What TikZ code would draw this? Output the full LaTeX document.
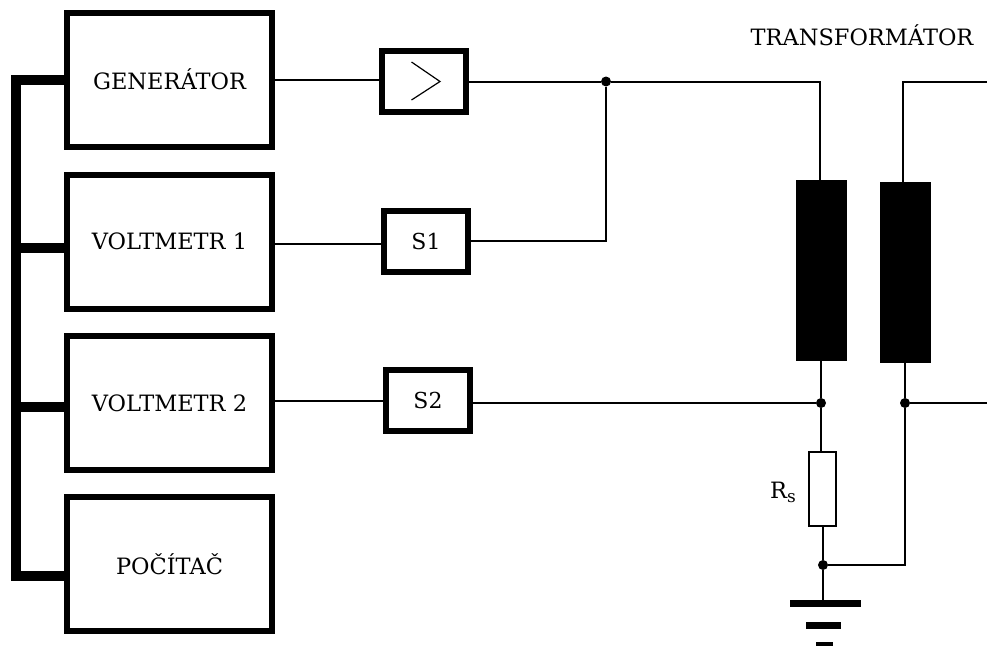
\documentclass[tikz,border=0pt]{standalone}
\usepackage{fontspec}
\setmainfont{DejaVu Serif}
\begin{document}
\begin{tikzpicture}[x=1pt,y=-1pt,
  lbl/.style={font=\fontsize{22.5}{26}\selectfont,inner sep=0pt},
  bigbox/.style={draw,line width=6pt,minimum width=205pt,minimum height=134pt,inner sep=0pt,outer sep=0pt,lbl},
  smallbox/.style={draw,line width=6pt,minimum width=84pt,minimum height=61pt,inner sep=0pt,outer sep=0pt,font=\fontsize{22}{26}\selectfont},
  core/.style={fill=black,minimum width=51pt,minimum height=181pt,inner sep=0pt,outer sep=0pt},
  wire/.style={line width=2pt,line cap=butt},
  bus/.style={line width=10pt},
  dotj/.style={circle,fill=black,minimum size=10pt,inner sep=0pt,outer sep=0pt},
  bar/.style={fill=black,inner sep=0pt,outer sep=0pt}]
\useasboundingbox (0,0) rectangle (987,645);
\fill[white] (0,0) rectangle (987,645);
% blocks
\node[bigbox] (gen) at (169.5,80) {\raisebox{1pt}{GENERÁTOR}};
\node[bigbox] (vm1) at (169.5,241.5) {VOLTMETR 1};
\node[bigbox] (vm2) at (169.5,403) {VOLTMETR 2};
\node[bigbox] (pc)  at (169.5,564) {POČÍTAČ};
\node[smallbox] (amp) at (424,81.5) {};
\node[smallbox] (s1) at (426,241.5) {S1};
\node[smallbox] (s2) at (428,400.5) {S2};
\draw[line width=1.2pt] (411.5,62) -- (440,81.5) -- (411.5,100);
% transformer
\node[core] (pri) at (821.5,270.5) {};
\node[core] (sec) at (905.5,272.5) {};
\node[draw,line width=1.6pt,fill=white,minimum width=27pt,minimum height=74pt,inner sep=0pt,outer sep=0pt] (rs) at (822.5,489) {};
\node[font=\fontsize{22.5}{26}\selectfont,inner sep=0pt,anchor=east] (rsl) at (796,492) {R\raisebox{-4pt}{\fontsize{17}{20}\selectfont s}};
\node[lbl,anchor=center] (tr) at (862,35) {TRANSFORMÁTOR};
% coordinates
\coordinate (busg) at (16,80);
\coordinate (bus1) at (16,248);
\coordinate (bus2) at (16,407);
\coordinate (busp) at (16,575.5);
\coordinate (priT) at (819.5,81.5);
\coordinate (secT) at (903,81.5);
\coordinate (outT) at (987,81.5);
\coordinate (outB) at (987,403);
\node[dotj] (j1) at (606,81.5) {};
\node[dotj] (jp) at (821,403) {};
\node[dotj] (js) at (905,403) {};
\node[dotj] (jg) at (823,565) {};
% bus
\draw[bus,line cap=butt] ([yshift=5pt]busg) -- ([yshift=-5pt]busp);
\draw[bus] (busg) -- (busg -| gen.west);
\draw[bus] (bus1) -- (bus1 -| vm1.west);
\draw[bus] (bus2) -- (bus2 -| vm2.west);
\draw[bus] (busp) -- (busp -| pc.west);
% wires
\draw[wire] (gen.east) -- (gen.east -| amp.west);
\draw[wire] (amp.east) -- (j1) -- (priT) -- (priT |- pri.north);
\draw[wire] (vm1.east) ++(0,2) -- (s1.west |- 0,243.5);
\draw[wire] (s1.east |- 0,241) -- (j1 |- 0,241) -- (j1);
\draw[wire] (vm2.east) ++(0,-2.5) -- (s2.west);
\draw[wire] (s2.east |- jp) -- (jp);
\draw[wire] (pri.south -| jp) -- (jp) -- (jp |- rs.north);
\draw[wire] (outT) -- (secT) -- (secT |- sec.north);
\draw[wire] (sec.south -| js) -- (js) -- (js |- jg) -- (jg);
\draw[wire] (js) -- (outB);
\coordinate (gtop) at (823,600);
\draw[wire] (jg |- rs.south) -- (jg) -- (gtop);
% ground
\node[bar,minimum width=71.5pt,minimum height=7pt] (g1) at (825.5,603.5) {};
\node[bar,minimum width=35pt,minimum height=7pt] (g2) at (823.5,625.5) {};
\node[bar,minimum width=17pt,minimum height=5pt] (g3) at (824.5,644.5) {};
\end{tikzpicture}
\end{document}
